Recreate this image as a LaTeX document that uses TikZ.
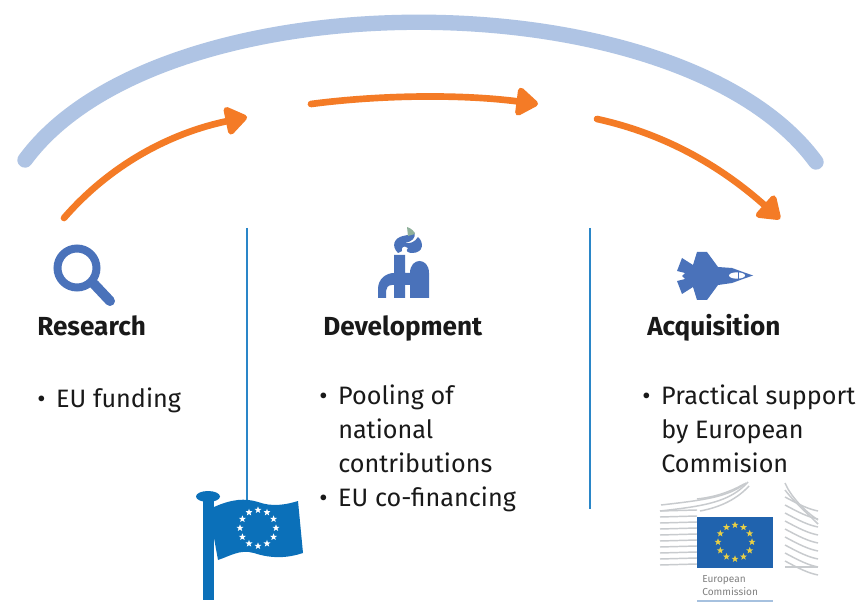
\documentclass[tikz,border=0pt]{standalone}
\usepackage{fontspec}
\setmainfont{Fira Sans}
\usetikzlibrary{arrows.meta,shapes.geometric}
\definecolor{arcblue}{HTML}{AFC4E4}
\definecolor{orangeA}{HTML}{F47B26}
\definecolor{iconblue}{HTML}{4A72BA}
\definecolor{rule}{HTML}{2A86C8}
\definecolor{flagblue}{HTML}{0B70B9}
\definecolor{ecblue}{HTML}{2063AE}
\definecolor{ecgold}{HTML}{E8CF45}
\definecolor{bldg}{HTML}{C8CBCE}
\definecolor{flamegreen}{HTML}{8FB09A}
\tikzset{
  bigarc/.style={draw=arcblue,line width=11.5pt,line cap=round},
  flow/.style={draw=orangeA,line width=5pt,line cap=round,-{Triangle[length=18pt,width=24pt,round=false]}},
  divider/.style={draw=rule,line width=1.7pt},
  head/.style={font=\fontsize{19.6}{24}\selectfont\bfseries,inner sep=0pt,anchor=base west,text=black!90},
  body/.style={font=\fontsize{18.9}{25.3}\selectfont,inner sep=0pt,anchor=north west,align=left,text=black!90},
  icon/.style={fill=iconblue,draw=none},
  bldgline/.style={draw=bldg,line width=1.1pt},
}
\newcommand{\bul}{\makebox[14.25pt][l]{\textbullet}}
\newcommand{\ind}{\hspace*{14.25pt}}
\begin{document}
\begin{tikzpicture}[x=0.75pt,y=-0.75pt]
\useasboundingbox (0,0) rectangle (857,602);
\fill[white] (0,0) rectangle (857,602);
% arcs
\coordinate (arcL) at (25,160);
\coordinate (arcR) at (816,162);
\path[bigarc] (arcL) .. controls (160,-24) and (680,-24) .. (arcR);
\coordinate (a1s) at (64,218); \coordinate (a1e) at (247,117);
\coordinate (a2s) at (311,104); \coordinate (a2e) at (538,104);
\coordinate (a3s) at (597,119); \coordinate (a3e) at (780,219);
\path[flow] (a1s) .. controls (110,165) and (170,133) .. (a1e);
\path[flow] (a2s) .. controls (380,95) and (460,94) .. (a2e);
\path[flow] (a3s) .. controls (670,135) and (725,170) .. (a3e);
% dividers
\coordinate (d1t) at (247,228); \coordinate (d1b) at (247,500);
\coordinate (d2t) at (590,228); \coordinate (d2b) at (590,509);
\path[divider] (d1t) -- (d1b);
\path[divider] (d2t) -- (d2b);
% magnifier
\draw[iconblue,line width=6pt] (77,268) circle (19.5);
\draw[iconblue,line width=7.5pt,line cap=round] (94,284) -- (110,301);
% factory
\path[icon] (394,255) -- (405,255) -- (405,273) -- (410,273) -- (410,285) -- (405,285) -- (405,298) -- (394,298) -- (394,285) -- (392,285) .. controls (388,285) and (386,288) .. (386,291) -- (386,298) -- (378,298) -- (378,289) .. controls (378,279) and (386,273) .. (394,273) -- cycle;
\path[icon] (410,298) -- (410,273) .. controls (410,257) and (429,257) .. (429,273) -- (429,298) -- cycle;
\path[icon] (398,253) .. controls (391,246) and (394,238) .. (403,236) .. controls (408,235) and (412,234) .. (414,232) .. controls (417,238) and (411,242) .. (405,243) .. controls (410,244) and (415,242) .. (418,237) .. controls (424,242) and (424,253) .. (412,253) .. controls (408,253) and (405,251) .. (408,248) .. controls (404,245) and (401,247) .. (402,251) -- cycle;
\path[fill=flamegreen] (407,227) .. controls (411,228) and (415,232) .. (415,234) -- (408,236) -- cycle;
% jet
\path[icon] (753,275.5) -- (743,272) -- (732,268) -- (718,267) -- (707,252) -- (697,252) -- (693,265) -- (682,258) -- (677,271) -- (685,273) -- (682,276) -- (685,279) -- (677,281) -- (682,294) -- (693,287) -- (697,300) -- (707,300) -- (718,285) -- (732,283) -- (743,279) -- cycle;
\fill[white] (737,275.5) ellipse (8 and 3.2);
\draw[iconblue,line width=0.7pt] (738,272) -- (738,279);
% headings
\node[head] (hR) at (37,335) {Research};
\node[head] (hD) at (323,335) {Development};
\node[head] (hA) at (647,335) {Acquisition};
% lists
\node[body] (lR) at (37,388) {\bul EU funding};
\node[body] (lD) at (319,385) {\bul Pooling of\\ \ind national\\ \ind contributions\\ \bul EU co-financing};
\node[body] (lA) at (642,385) {\bul Practical support\\ \ind by European\\ \ind Commision};
% EU flag
\path[fill=flagblue] (203,500) rectangle (214,600);
\path[fill=flagblue] (208,496.5) ellipse (12 and 5.5);
\path[fill=flagblue] (214,507) .. controls (232,499) and (245,498) .. (258,502) .. controls (272,507) and (285,505) .. (298,501) -- (303,553) .. controls (288,558) and (272,559) .. (254,553) .. controls (240,549) and (230,556) .. (218,560) -- (214,538) -- cycle;
\foreach \i in {1,...,12}
  \node[star,star points=5,star point ratio=2.4,fill=white,inner sep=0pt,minimum size=5.5pt] (fs\i) at ({258+18*cos(30*\i)},{528+18*sin(30*\i)}) {};
% European Commission logo
\foreach \yy in {511,517,523,529,535,541,547,553,559,565}
  \draw[bldgline] (660,\yy) -- (697,\yy-1);
\draw[bldgline] (660,511) .. controls (705,506) and (730,502) .. (748,482);
\draw[bldgline] (661,505) .. controls (705,500) and (728,497) .. (746,483);
\draw[bldgline] (700,511) .. controls (722,507) and (738,498) .. (749,486);
\draw[bldgline] (697,499) .. controls (715,497) and (730,492) .. (744,484);
\foreach \yy in {497,505,513,521,529,537,545,553,561}
  \draw[bldgline] (785,\yy) .. controls (800,\yy+8) and (808,\yy+12) .. (818,\yy+14);
\draw[bldgline] (785,483) .. controls (790,495) and (803,510) .. (818,520);
\draw[bldgline] (785,490) .. controls (795,503) and (806,512) .. (818,524);
\draw[bldgline] (785,567) -- (818,567);
\path[fill=ecblue] (697,517) rectangle (773,568);
\foreach \i in {1,...,12}
  \node[star,star points=5,star point ratio=2.4,fill=ecgold,inner sep=0pt,minimum size=5.5pt] (es\i) at ({735+17*cos(30*\i)},{542+17*sin(30*\i)}) {};
\node[font=\fontsize{7.6}{10}\selectfont,text=black!50,align=left,inner sep=0pt,anchor=north west] (ecT) at (702,575) {European\\Commission};
\path[fill=ecblue!40] (697,600) rectangle (773,602);
\end{tikzpicture}
\end{document}
